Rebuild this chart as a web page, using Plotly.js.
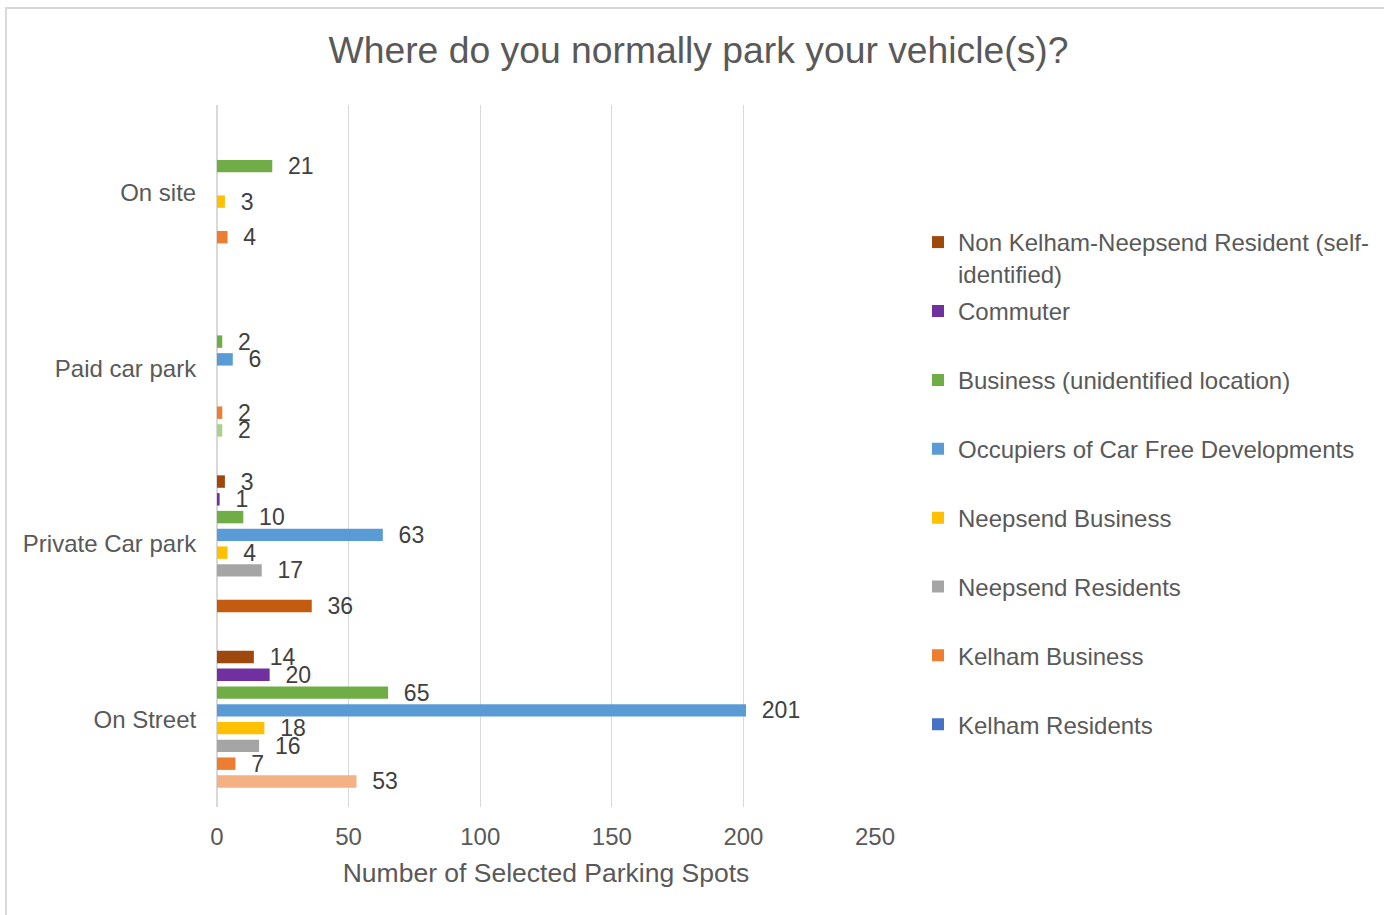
<!DOCTYPE html>
<html>
<head>
<meta charset="utf-8">
<script src="https://cdn.plot.ly/plotly-3.0.1.min.js"></script>
<style>
  html, body { margin: 0; padding: 0; background: #ffffff; }
  #wrap { position: relative; width: 1384px; height: 915px; overflow: hidden; }
  #chart { position: absolute; left: 0; top: 0; width: 1384px; height: 915px; }
  #frame { position: absolute; left: 5px; top: 7px; width: 1400px; height: 940px;
           border: 2px solid #d9d9d9; box-sizing: border-box; pointer-events: none; }
</style>
</head>
<body>
<div id="wrap">
  <div id="chart"></div>
  <div id="frame"></div>
</div>
<script>
// ---- data ----
const categories = ['On site', 'Paid car park', 'Private Car park', 'On Street'];
const categoryOrder = ['On Street', 'Private Car park', 'Paid car park', 'On site'];

const seriesNames = [
  'Kelham Residents',
  'Kelham Business',
  'Neepsend Residents',
  'Neepsend Business',
  'Occupiers of Car Free Developments',
  'Business (unidentified location)',
  'Commuter',
  'Non Kelham-Neepsend Resident (self-<br>identified)'
];

const kelhamResidents      = [null, 2, 36, 53];
const kelhamBusiness       = [4, 2, null, 7];
const neepsendResidents    = [null, null, 17, 16];
const neepsendBusiness     = [3, null, 4, 18];
const occupiers            = [null, 6, 63, 201];
const businessUnidentified = [21, 2, 10, 65];
const commuter             = [null, null, 1, 20];
const nonKelham            = [null, null, 3, 14];

const seriesValues = [kelhamResidents, kelhamBusiness, neepsendResidents, neepsendBusiness,
                      occupiers, businessUnidentified, commuter, nonKelham];

const seriesColors = ['#4472C4', '#ED7D31', '#A5A5A5', '#FFC000',
                      '#5B9BD5', '#70AD47', '#7030A0', '#9E480E'];
// Kelham Residents points were individually recoloured
const kelhamResidentsPointColors = ['#4472C4', '#A9D18E', '#C55A11', '#F4B183'];

const xTicks = [0, 50, 100, 150, 200, 250];

// ---- traces ----
const traces = seriesNames.map((name, i) => ({
  type: 'bar',
  orientation: 'h',
  name: name,
  y: categories,
  x: seriesValues[i],
  legend: i === seriesNames.length - 1 ? 'legend2' : 'legend',
  legendgroup: 'g' + i,
  legendrank: 100 - i,
  marker: { color: i === 0 ? kelhamResidentsPointColors : seriesColors[i] },
  texttemplate: '\u00a0\u00a0%{x}',
  textposition: 'outside',
  constraintext: 'none',
  cliponaxis: false,
  textfont: { family: 'Liberation Sans, Arial, sans-serif', size: 23, color: '#404040' },
  hoverinfo: 'x+name'
}));

const layout = {
  width: 1384,
  height: 915,
  margin: { l: 217, r: 509, t: 105, b: 108 },
  paper_bgcolor: 'rgba(0,0,0,0)',
  plot_bgcolor: 'rgba(0,0,0,0)',
  font: { family: 'Liberation Sans, Arial, sans-serif', color: '#595959' },
  barmode: 'group',
  bargap: 0.19,
  bargroupgap: 0.3,
  showlegend: true,
  title: {
    text: 'Where do you normally park your vehicle(s)?',
    font: { size: 37.3, color: '#595959' },
    xref: 'container', x: 0.5047, xanchor: 'center',
    yref: 'container', y: 1 - 50 / 915, yanchor: 'middle'
  },
  xaxis: {
    range: [0, 250],
    tickvals: xTicks,
    ticktext: xTicks.map(String),
    showgrid: true,
    gridcolor: '#d9d9d9',
    gridwidth: 1.3,
    zeroline: true,
    zerolinecolor: '#d9d9d9',
    zerolinewidth: 1.3,
    showline: false,
    ticks: 'outside',
    ticklen: 8,
    tickcolor: 'rgba(0,0,0,0)',
    tickfont: { size: 24, color: '#595959' },
    title: { text: 'Number of Selected Parking Spots', font: { size: 26.5, color: '#595959' }, standoff: 14 },
    fixedrange: true
  },
  yaxis: {
    type: 'category',
    categoryorder: 'array',
    categoryarray: categoryOrder,
    showgrid: false,
    zeroline: false,
    showline: false,
    ticks: 'outside',
    ticklen: 15,
    tickcolor: 'rgba(0,0,0,0)',
    tickfont: { size: 24, color: '#595959' },
    fixedrange: true
  },
  legend: {
    xref: 'container', yref: 'container',
    x: 918 / 1384, xanchor: 'left',
    y: 1 - 289 / 915, yanchor: 'top',
    traceorder: 'grouped',
    tracegroupgap: 34.65,
    font: { size: 24, color: '#595959' },
    bgcolor: 'rgba(0,0,0,0)',
    borderwidth: 0
  },
  legend2: {
    xref: 'container', yref: 'container',
    x: 918 / 1384, xanchor: 'left',
    y: 1 - 220 / 915, yanchor: 'top',
    valign: 'top',
    font: { size: 24, color: '#595959' },
    bgcolor: 'rgba(0,0,0,0)',
    borderwidth: 0
  }
};

Plotly.newPlot('chart', traces, layout, { displayModeBar: false, staticPlot: true });
</script>
</body>
</html>
